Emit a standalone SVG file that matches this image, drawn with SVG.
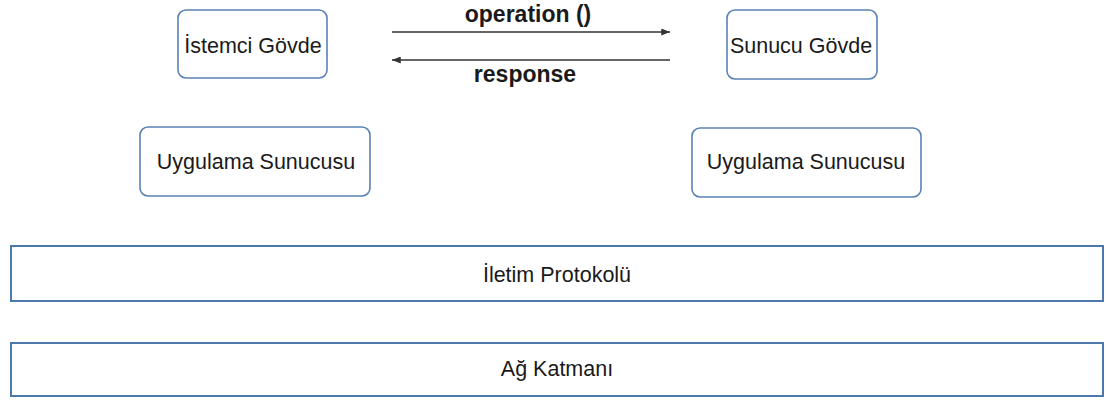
<svg xmlns="http://www.w3.org/2000/svg" width="1106" height="400" viewBox="0 0 1106 400">
  <style>
    .box { fill: #ffffff; stroke: #5a82b4; stroke-width: 1.6; }
    .layer { fill: #ffffff; stroke: #4d78ab; stroke-width: 2; }
    .label { font-family: "Liberation Sans", Arial, sans-serif; font-size: 21.5px; fill: #1a1a1a; text-anchor: middle; }
    .msg { font-family: "Liberation Sans", Arial, sans-serif; font-size: 23px; font-weight: bold; fill: #1a1a1a; text-anchor: middle; }
    .link { stroke: #333333; stroke-width: 1.6; fill: none; }
  </style>
  <defs>
    <marker id="head" viewBox="0 0 10 8" refX="10" refY="4" markerWidth="10" markerHeight="7" markerUnits="userSpaceOnUse" orient="auto">
      <path d="M0,0 L10,4 L0,8 Z" fill="#333333"/>
    </marker>
  </defs>
  <rect width="1106" height="400" fill="#ffffff"/>

  <g id="client-stub">
    <rect class="box" x="178" y="10" width="149" height="68" rx="8"/>
    <text class="label" x="253" y="53">İstemci Gövde</text>
  </g>

  <g id="server-stub">
    <rect class="box" x="727" y="10" width="150" height="69" rx="8"/>
    <text class="label" x="801" y="53">Sunucu Gövde</text>
  </g>

  <g id="client-app-server">
    <rect class="box" x="140" y="127" width="230" height="69" rx="8"/>
    <text class="label" x="256" y="169">Uygulama Sunucusu</text>
  </g>

  <g id="server-app-server">
    <rect class="box" x="692" y="128" width="229" height="69" rx="8"/>
    <text class="label" x="806" y="169">Uygulama Sunucusu</text>
  </g>

  <g id="transport-layer">
    <rect class="layer" x="11" y="246" width="1092" height="55"/>
    <text class="label" x="557" y="282">İletim Protokolü</text>
  </g>

  <g id="network-layer">
    <rect class="layer" x="11" y="343" width="1092" height="53"/>
    <text class="label" x="557" y="376">Ağ Katmanı</text>
  </g>

  <g id="connectors">
    <line class="link" x1="392" y1="32" x2="670" y2="32" marker-end="url(#head)"/>
    <text class="msg" x="528" y="22">operation ()</text>
    <line class="link" x1="670" y1="60" x2="392" y2="60" marker-end="url(#head)"/>
    <text class="msg" x="525" y="82">response</text>
  </g>
</svg>
